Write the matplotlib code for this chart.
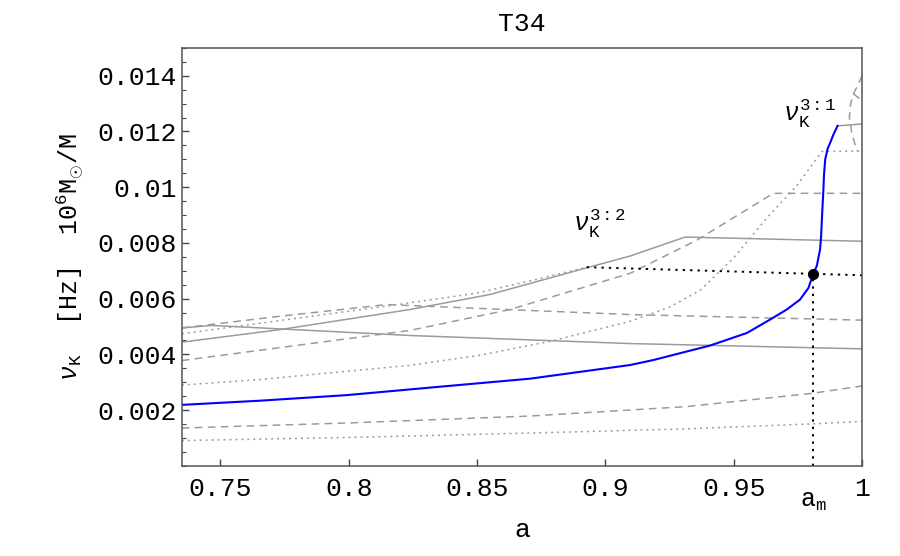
import numpy as np
import matplotlib
matplotlib.use('Agg')
from matplotlib import pyplot as plt
from matplotlib.ticker import FixedLocator, FixedFormatter, MultipleLocator

plt.rcParams['font.family'] = ['Liberation Mono', 'DejaVu Sans']
plt.rcParams['mathtext.fontset'] = 'custom'
plt.rcParams['mathtext.rm'] = 'Liberation Mono'
plt.rcParams['mathtext.it'] = 'Liberation Mono:italic'
plt.rcParams['mathtext.bf'] = 'Liberation Mono:bold'

# Keplerian frequency of the resonance (blue)
blue_a = [0.735, 0.7654, 0.7992, 0.8317, 0.8706, 0.9096, 0.9187, 0.9408, 0.9551,
          0.9641, 0.9706, 0.9758, 0.9791, 0.9808, 0.9823, 0.9836, 0.9840, 0.9843,
          0.9849, 0.9851, 0.9856, 0.9865, 0.9876, 0.9889, 0.9904]
blue_nu = [0.00219, 0.00234, 0.00254, 0.00281, 0.00313, 0.00362, 0.00380,
           0.00432, 0.00477, 0.00525, 0.00561, 0.00597, 0.00639, 0.00687, 0.00717,
           0.00777, 0.00825, 0.00885, 0.00993, 0.01041, 0.0110, 0.01137, 0.01161,
           0.01191, 0.0122]

# gray solid curves
solid_up_a = [0.735, 0.7732, 0.8238, 0.8550, 0.8952, 0.9096, 0.9310, 1.0]
solid_up_nu = [0.00444, 0.00489, 0.00561, 0.00615, 0.00717, 0.00753, 0.00821, 0.00806]
solid_down_a = [0.735, 0.7467, 0.8238, 0.9096, 1.0]
solid_down_nu = [0.00495, 0.00504, 0.00468, 0.00439, 0.0042]
solid_top_a = [0.9904, 1.0]
solid_top_nu = [0.0122, 0.01227]

# gray dashed curves
dash_hump_a = [0.735, 0.7732, 0.8148, 0.8511, 0.9096, 1.0]
dash_hump_nu = [0.00495, 0.00537, 0.00579, 0.00565, 0.00543, 0.00523]
dash_rise_a = [0.735, 0.8238, 0.8628, 0.9096, 0.9356, 0.9654, 1.0]
dash_rise_nu = [0.00378, 0.00486, 0.00561, 0.00691, 0.0081, 0.00978, 0.00978]
dash_low_a = [0.735, 0.7992, 0.8706, 0.9317, 0.9810, 1.0]
dash_low_nu = [0.00136, 0.00154, 0.00179, 0.00213, 0.00261, 0.00287]
dash_loop_a = [1.0, 0.9985, 0.9966, 0.9955, 0.9950, 0.9960, 0.9980]
dash_loop_nu = [0.0140, 0.0137, 0.01335, 0.0130, 0.0125, 0.0119, 0.0113]
dash_branch_a = [0.9966, 1.0]
dash_branch_nu = [0.01335, 0.0131]

# gray dotted curves
dot_top_a = [0.735, 0.78, 0.82, 0.85, 0.872, 0.8927]
dot_top_nu = [0.00474, 0.0053, 0.0058, 0.0062, 0.00667, 0.00713]
dot_rise_a = [0.735, 0.7654, 0.8238, 0.8511, 0.8784, 0.9096, 0.925, 0.9369, 0.9498,
              0.9629, 0.9745, 0.9843, 1.0]
dot_rise_nu = [0.0029, 0.0031, 0.00361, 0.00397, 0.00447, 0.00519, 0.0057, 0.0063,
               0.00745, 0.0089, 0.01005, 0.01128, 0.0113]
dot_low_a = [0.735, 0.7992, 0.8706, 0.9317, 0.9810, 1.0]
dot_low_nu = [0.00091, 0.00102, 0.00118, 0.00133, 0.00151, 0.0016]

# marked point
a_m = 0.9808
nu_m = 0.00687
guide_a = [0.8927, 1.0]
guide_nu = [0.00713, 0.00684]

xticks = [0.75, 0.8, 0.85, 0.9, 0.95, 1.0]
xticklabels = ['0.75', '0.8', '0.85', '0.9', '0.95', '1']
yticks = [0.002, 0.004, 0.006, 0.008, 0.01, 0.012, 0.014]
yticklabels = ['0.002', '0.004', '0.006', '0.008', '0.01', '0.012', '0.014']

gray = '#9b9b9b'
fig = plt.figure(figsize=(9, 5.56), dpi=100)
ax = fig.add_axes([0.202, 0.162, 0.756, 0.752])

lw = 1.1
dash = (5, 3.5)
dot = (1.3, 2.6)
ax.plot(solid_up_a, solid_up_nu, c=gray, lw=lw)
ax.plot(solid_down_a, solid_down_nu, c=gray, lw=lw)
ax.plot(solid_top_a, solid_top_nu, c=gray, lw=lw)
for xa, yn in [(dash_hump_a, dash_hump_nu), (dash_rise_a, dash_rise_nu),
               (dash_low_a, dash_low_nu), (dash_loop_a, dash_loop_nu),
               (dash_branch_a, dash_branch_nu)]:
    ax.plot(xa, yn, c=gray, lw=lw, dashes=dash)
for xa, yn in [(dot_top_a, dot_top_nu), (dot_rise_a, dot_rise_nu), (dot_low_a, dot_low_nu)]:
    ax.plot(xa, yn, c=gray, lw=lw, dashes=dot)

ax.plot(guide_a, guide_nu, c='black', lw=1.4, dashes=(1.2, 2.6))
ax.plot([a_m, a_m], [0, nu_m], c='black', lw=1.4, dashes=(1.2, 2.6))
ax.plot(blue_a, blue_nu, c='#0000ff', lw=1.5)
ax.plot([a_m], [nu_m], 'o', c='black', ms=7)

ax.text(0.8874, 0.00842, r'$\nu_{\mathrm{K}}^{\mathrm{3:2}}$', fontsize=18, va='baseline')
ax.text(0.9692, 0.01237, r'$\nu_{\mathrm{K}}^{\mathrm{3:1}}$', fontsize=18, va='baseline')
ax.text(a_m, -0.098, r'$\mathrm{a}_{\mathrm{m}}$', fontsize=18, ha='center', va='baseline',
        transform=ax.get_xaxis_transform())

ax.set_xlim(0.735, 1.0)
ax.set_ylim(0, 0.015)
ax.xaxis.set_major_locator(FixedLocator(xticks))
ax.xaxis.set_major_formatter(FixedFormatter(xticklabels))
ax.yaxis.set_major_locator(FixedLocator(yticks))
ax.yaxis.set_major_formatter(FixedFormatter(yticklabels))
ax.yaxis.set_minor_locator(MultipleLocator(0.0005))
ax.tick_params(which='both', direction='in', top=False, right=False, labelsize=19,
               color='#444444')
ax.tick_params(which='major', length=5, width=1)
ax.tick_params(which='minor', length=3, width=0.8)
ax.tick_params(axis='x', pad=8)
for s in ax.spines.values():
    s.set_color('#555555')
    s.set_linewidth(1.1)

ax.set_title('T34', fontsize=19, pad=12)
ax.set_xlabel('a', fontsize=19, labelpad=12)
ax.set_ylabel(r'$\nu_{\mathrm{K}}$  [Hz]  $10^6\mathrm{M}_{\odot}/\mathrm{M}$', fontsize=18,
              labelpad=8)

plt.savefig('out.png', dpi=100)
